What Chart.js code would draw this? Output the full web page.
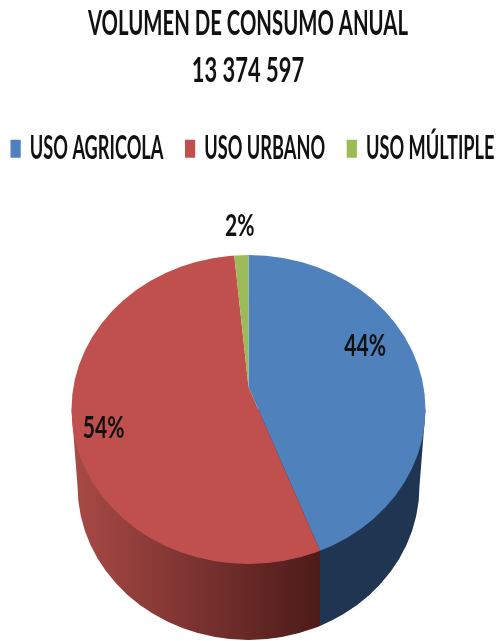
<!DOCTYPE html>
<html><head><meta charset="utf-8">
<style>html,body{margin:0;padding:0;background:#fff;overflow:hidden}canvas{display:block}</style>
<script src="https://cdn.jsdelivr.net/npm/chart.js@4"></script>
</head><body><canvas id="c" width="497" height="641"></canvas>
<script>
const titleLines = ['VOLUMEN DE CONSUMO ANUAL', '13 374 597'];
const categories = ['USO AGRICOLA', 'USO URBANO', 'USO MÚLTIPLE'];
const shares = [44.2, 54.3, 1.5];
const faceColors = ['#4F81BD', '#C0504D', '#9BBB59'];
const wallColors = [['#1F3552', '#1F3552'], ['#A94A46', '#4C1B19'], ['#5E7335', '#5E7335']];

const FONT = 'Lato';
const TITLE_SX = 0.644, LEGEND_SX = 0.568, LABEL_SX = 0.68;
const LEGEND_SLACK = 120;
const TILT = 0.873;                 // ellipse height / width of the pie top
const TOP = {cy: 409.5, rx: 177, ry: 154.5};
const BASE = {cy: 486, rx: 171, ry: 154};
const labelPlace = [{k: 0.67, dy: -22}, {k: 0.84, dy: 12}, {k: 1.06, dy: 3}];

function squeeze(ctx, cx, sx, fn) {
  ctx.save(); ctx.translate(cx, 0); ctx.scale(sx, 1); ctx.translate(-cx, 0); fn(); ctx.restore();
}
function topPath(ctx, cx) {
  ctx.beginPath(); ctx.ellipse(cx, TOP.cy, TOP.rx, TOP.ry, 0, 0, Math.PI * 2);
}
// x where the ray leaving the slice apex at a given chart angle meets the top ellipse
function rimX(arc, angle) {
  const dx = Math.cos(angle), dy = Math.sin(angle) * TILT;
  const ox = 0, oy = arc.y - TOP.cy;
  const a = dx * dx / (TOP.rx * TOP.rx) + dy * dy / (TOP.ry * TOP.ry);
  const b = 2 * (ox * dx / (TOP.rx * TOP.rx) + oy * dy / (TOP.ry * TOP.ry));
  const c = oy * oy / (TOP.ry * TOP.ry) - 1;
  const t = (-b + Math.sqrt(b * b - 4 * a * c)) / (2 * a);
  return arc.x + t * dx;
}
const pie3d = {
  id: 'pie3d',
  beforeInit(chart) {
    const tb = chart.titleBlock, lg = chart.legend;
    const drawT = tb.draw.bind(tb);
    tb.draw = function () { squeeze(chart.ctx, chart.width / 2 - 1.5, TITLE_SX, drawT); };
    const updL = lg.update.bind(lg), drawL = lg.draw.bind(lg);
    lg.update = function (w, h, m) { updL(w / LEGEND_SX + LEGEND_SLACK, h, m); };
    lg.draw = function () {
      const l = lg.left, r = lg.right, cx = chart.width / 2 + 4, hw = (r - l) / LEGEND_SX / 2 + LEGEND_SLACK;
      lg.left = cx - hw; lg.right = cx + hw;
      squeeze(chart.ctx, cx, LEGEND_SX, drawL);
      lg.left = l; lg.right = r;
    };
  },
  beforeDatasetsDraw(chart) {
    const ctx = chart.ctx, arcs = chart.getDatasetMeta(0).data, cx = arcs[0].x;
    arcs.forEach((arc, i) => {
      const lo = Math.max(arc.startAngle, 0), hi = Math.min(arc.endAngle, Math.PI);
      if (lo >= hi) return;
      const right = lo <= 0 ? chart.width : rimX(arc, lo);
      const left = hi >= Math.PI ? 0 : rimX(arc, hi);
      ctx.save();
      ctx.beginPath(); ctx.rect(left, 0, right - left, chart.height); ctx.clip();
      ctx.beginPath();
      ctx.moveTo(cx - TOP.rx, TOP.cy);
      ctx.lineTo(cx - BASE.rx, BASE.cy);
      ctx.ellipse(cx, BASE.cy, BASE.rx, BASE.ry, 0, Math.PI, 0, true);
      ctx.lineTo(cx + TOP.rx, TOP.cy);
      ctx.closePath();
      const g = ctx.createLinearGradient(Math.max(left, cx - TOP.rx), 0, Math.min(right, cx + TOP.rx), 0);
      g.addColorStop(0, wallColors[i][0]); g.addColorStop(1, wallColors[i][1]);
      ctx.fillStyle = g; ctx.fill();
      ctx.restore();
    });
  },
  beforeDatasetDraw(chart) {
    const ctx = chart.ctx, arc = chart.getDatasetMeta(0).data[0];
    ctx.save();
    topPath(ctx, arc.x); ctx.clip();
    ctx.translate(arc.x, arc.y); ctx.scale(1, TILT); ctx.translate(-arc.x, -arc.y);
  },
  afterDatasetDraw(chart) { chart.ctx.restore(); },
  afterDatasetsDraw(chart) {
    const ctx = chart.ctx;
    chart.getDatasetMeta(0).data.forEach((arc, i) => {
      const mid = (arc.startAngle + arc.endAngle) / 2, p = labelPlace[i];
      const x = arc.x + p.k * TOP.rx * Math.cos(mid);
      const y = arc.y + p.k * TOP.ry * Math.sin(mid) + p.dy;
      squeeze(ctx, x, LABEL_SX, () => {
        ctx.fillStyle = '#111';
        ctx.font = 'bold 31px ' + FONT;
        ctx.textAlign = 'center'; ctx.textBaseline = 'middle';
        ctx.fillText(Math.round(shares[i]) + '%', x, y);
      });
    });
  }
};

new Chart(document.getElementById('c'), {
  type: 'pie',
  data: {
    labels: categories,
    datasets: [{data: shares, backgroundColor: faceColors, borderWidth: 0, radius: 205, clip: false}]
  },
  options: {
    responsive: false,
    animation: false,
    layout: {padding: {bottom: 42}},
    plugins: {
      tooltip: {enabled: false},
      title: {
        display: true, text: titleLines, color: '#111',
        font: {family: FONT, size: 34, weight: 'bold', lineHeight: 1.38},
        padding: {top: 1, bottom: 0}
      },
      legend: {
        position: 'top',
        labels: {
          color: '#111', boxWidth: 18, boxHeight: 18, padding: 38,
          font: {family: FONT, size: 32, weight: 'bold'}
        }
      }
    }
  },
  plugins: [pie3d]
});
</script></body></html>
